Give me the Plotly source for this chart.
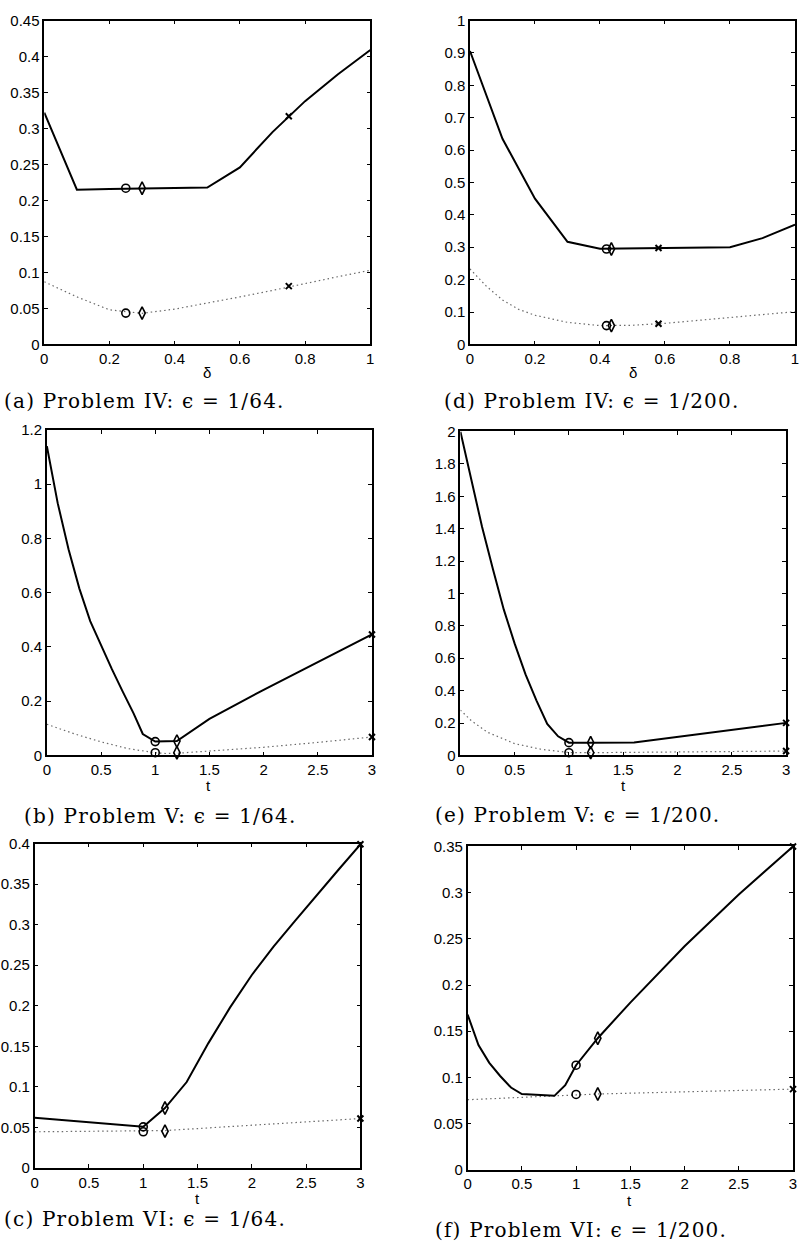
import plotly.graph_objects as go

W, H = 799, 1253

# ---------------- data ----------------
# (a) Problem IV, eps = 1/64  (x = delta)
a_x = [0, 0.1, 0.2, 0.3, 0.4, 0.5, 0.6, 0.7, 0.8, 0.9, 1.0]
a_solid = [0.322, 0.215, 0.216, 0.217, 0.218, 0.218, 0.246, 0.295, 0.338, 0.375, 0.409]
a_dot = [0.087, 0.066, 0.048, 0.0432, 0.049, 0.057, 0.066, 0.075, 0.085, 0.094, 0.103]
a_circ = (0.25, 0.217, 0.0435)
a_diam = (0.30, 0.217, 0.0435)
a_cross = (0.75, 0.317, 0.081)

# (d) Problem IV, eps = 1/200
d_x = [0, 0.1, 0.2, 0.3, 0.4, 0.5, 0.6, 0.7, 0.8, 0.9, 1.0]
d_solid = [0.906, 0.635, 0.45, 0.317, 0.295, 0.296, 0.297, 0.298, 0.300, 0.328, 0.370]
d_dx = [0, 0.05, 0.1, 0.15, 0.2, 0.3, 0.4, 0.5, 0.6, 0.7, 0.8, 0.9, 1.0]
d_dot = [0.233, 0.18, 0.137, 0.108, 0.09, 0.068, 0.058, 0.059, 0.065, 0.073, 0.083, 0.092, 0.101]
d_circ = (0.42, 0.2945, 0.058)
d_diam = (0.435, 0.2945, 0.058)
d_cross = (0.58, 0.2976, 0.0635)

# (b) Problem V, eps = 1/64  (x = t)
b_x = [0, 0.1, 0.2, 0.3, 0.4, 0.5, 0.6, 0.7, 0.8, 0.885, 1.0, 1.2, 1.5, 2.0, 2.5, 3.0]
b_solid = [1.14, 0.93, 0.76, 0.615, 0.495, 0.405, 0.318, 0.235, 0.155, 0.079, 0.051, 0.053,
           0.135, 0.242, 0.343, 0.446]
b_dx = [0, 0.25, 0.5, 0.75, 1.0, 1.1, 1.2, 1.5, 2.0, 2.5, 3.0]
b_dot = [0.115, 0.08, 0.05, 0.025, 0.01, 0.007, 0.008, 0.016, 0.03, 0.048, 0.068]
b_circ = (1.0, 0.051, 0.01)
b_diam = (1.2, 0.053, 0.01)
b_cross = (3.0, 0.446, 0.068)

# (e) Problem V, eps = 1/200
e_x = [0, 0.1, 0.2, 0.3, 0.4, 0.5, 0.6, 0.7, 0.8, 0.9, 1.0, 1.2, 1.6, 3.0]
e_solid = [2.0, 1.7, 1.41, 1.15, 0.9, 0.69, 0.5, 0.34, 0.195, 0.118, 0.079, 0.079, 0.080, 0.201]
e_dx = [0, 0.1, 0.25, 0.5, 0.75, 1.0, 1.2, 2.0, 3.0]
e_dot = [0.28, 0.215, 0.143, 0.073, 0.037, 0.018, 0.017, 0.021, 0.027]
e_circ = (1.0, 0.079, 0.017)
e_diam = (1.2, 0.079, 0.017)
e_cross = (3.0, 0.201, 0.027)

# (c) Problem VI, eps = 1/64
c_x = [0, 1.0, 1.2, 1.4, 1.6, 1.8, 2.0, 2.2, 2.4, 2.6, 2.8, 3.0]
c_solid = [0.062, 0.0508, 0.074, 0.106, 0.154, 0.198, 0.238, 0.273, 0.305, 0.337, 0.368, 0.399]
c_dx = [0, 1.0, 1.2, 3.0]
c_dot = [0.0447, 0.0452, 0.0462, 0.061]
c_circ = (1.0, 0.0508, 0.0447)
c_diam = (1.2, 0.074, 0.0455)
c_cross = (3.0, 0.399, 0.061)

# (f) Problem VI, eps = 1/200
f_x = [0, 0.1, 0.2, 0.3, 0.4, 0.5, 0.8, 0.9, 1.0, 1.2, 1.5, 2.0, 2.5, 3.0]
f_solid = [0.168, 0.135, 0.1157, 0.1015, 0.089, 0.0819, 0.080, 0.0915, 0.1132, 0.1424,
           0.181, 0.242, 0.298, 0.35]
f_dx = [0, 1.0, 1.2, 3.0]
f_dot = [0.0758, 0.0815, 0.082, 0.0873]
f_circ = (1.0, 0.1132, 0.0815)
f_diam = (1.2, 0.1424, 0.082)
f_cross = (3.0, 0.35, 0.0873)

# tick labels
xt_delta = [0, 0.2, 0.4, 0.6, 0.8, 1]
xt_delta_txt = ["0", "0.2", "0.4", "0.6", "0.8", "1"]
xt_t = [0, 0.5, 1, 1.5, 2, 2.5, 3]
xt_t_txt = ["0", "0.5", "1", "1.5", "2", "2.5", "3"]
yt_a = [0, 0.05, 0.1, 0.15, 0.2, 0.25, 0.3, 0.35, 0.4, 0.45]
yt_a_txt = ["0", "0.05", "0.1", "0.15", "0.2", "0.25", "0.3", "0.35", "0.4", "0.45"]
yt_d = [0, 0.1, 0.2, 0.3, 0.4, 0.5, 0.6, 0.7, 0.8, 0.9, 1]
yt_d_txt = ["0", "0.1", "0.2", "0.3", "0.4", "0.5", "0.6", "0.7", "0.8", "0.9", "1"]
yt_b = [0, 0.2, 0.4, 0.6, 0.8, 1, 1.2]
yt_b_txt = ["0", "0.2", "0.4", "0.6", "0.8", "1", "1.2"]
yt_e = [0, 0.2, 0.4, 0.6, 0.8, 1, 1.2, 1.4, 1.6, 1.8, 2]
yt_e_txt = ["0", "0.2", "0.4", "0.6", "0.8", "1", "1.2", "1.4", "1.6", "1.8", "2"]
yt_c = [0, 0.05, 0.1, 0.15, 0.2, 0.25, 0.3, 0.35, 0.4]
yt_c_txt = ["0", "0.05", "0.1", "0.15", "0.2", "0.25", "0.3", "0.35", "0.4"]
yt_f = [0, 0.05, 0.1, 0.15, 0.2, 0.25, 0.3, 0.35]
yt_f_txt = ["0", "0.05", "0.1", "0.15", "0.2", "0.25", "0.3", "0.35"]

captions = {
    "a": "(a) Problem IV: \u03f5 = 1/64.",
    "d": "(d) Problem IV: \u03f5 = 1/200.",
    "b": "(b) Problem V: \u03f5 = 1/64.",
    "e": "(e) Problem V: \u03f5 = 1/200.",
    "c": "(c) Problem VI: \u03f5 = 1/64.",
    "f": "(f) Problem VI: \u03f5 = 1/200.",
}

# ---------------- layout (pixel boxes) ----------------
panels = [
    dict(key="a", xb=(40.7, 370), yb=(11.7, 340), xr=[0, 1], yr=[0, 0.45],
         xt=(xt_delta, xt_delta_txt), yt=(yt_a, yt_a_txt),
         solid=(a_x, a_solid), dot=(a_x, a_dot), mk=(a_circ, a_diam, a_cross),
         xlab="\u03b4", lab=(205, 369), cap=(-2, 397)),
    dict(key="d", xb=(470.7, 799), yb=(11.7, 340), xr=[0, 1], yr=[0, 1],
         xt=(xt_delta, xt_delta_txt), yt=(yt_d, yt_d_txt),
         solid=(d_x, d_solid), dot=(d_dx, d_dot), mk=(d_circ, d_diam, d_cross),
         xlab="\u03b4", lab=(635, 369), cap=(442.7, 397)),
    dict(key="b", xb=(43.3, 371.7), yb=(426.7, 756.7), xr=[0, 3], yr=[0, 1.2],
         xt=(xt_t, xt_t_txt), yt=(yt_b, yt_b_txt),
         solid=(b_x, b_solid), dot=(b_dx, b_dot), mk=(b_circ, b_diam, b_cross),
         xlab="t", lab=(206.7, 787.5), cap=(18, 818)),
    dict(key="e", xb=(461, 790), yb=(428.3, 756.7), xr=[0, 3], yr=[0, 2],
         xt=(xt_t, xt_t_txt), yt=(yt_e, yt_e_txt),
         solid=(e_x, e_solid), dot=(e_dx, e_dot), mk=(e_circ, e_diam, e_cross),
         xlab="t", lab=(625.7, 787.5), cap=(433, 817)),
    dict(key="c", xb=(31, 360), yb=(846, 1175), xr=[0, 3], yr=[0, 0.4],
         xt=(xt_t, xt_t_txt), yt=(yt_c, yt_c_txt),
         solid=(c_x, c_solid), dot=(c_dx, c_dot), mk=(c_circ, c_diam, c_cross),
         xlab="t", lab=(195.7, 1206), cap=(-2, 1227)),
    dict(key="f", xb=(468.3, 797), yb=(849, 1176.7), xr=[0, 3], yr=[0, 0.35],
         xt=(xt_t, xt_t_txt), yt=(yt_f, yt_f_txt),
         solid=(f_x, f_solid), dot=(f_dx, f_dot), mk=(f_circ, f_diam, f_cross),
         xlab="t", lab=(632.3, 1208), cap=(433, 1238)),
]

TICK_FONT = dict(family="Liberation Sans, Arial, sans-serif", size=15, color="black")
CAP_FONT = dict(family="DejaVu Serif, serif", size=20, color="black")

fig = go.Figure()
annotations = []
layout = {}

marker_styles = [
    dict(symbol="circle-open", size=8, line=dict(width=1.6, color="black"), color="black"),
    dict(symbol="diamond-tall-open", size=9, line=dict(width=1.6, color="black"), color="black"),
    dict(symbol="x-thin-open", size=6, line=dict(width=2, color="black"), color="black"),
]

for i, p in enumerate(panels, start=1):
    xa = "x" if i == 1 else f"x{i}"
    ya = "y" if i == 1 else f"y{i}"
    xkey = "xaxis" if i == 1 else f"xaxis{i}"
    ykey = "yaxis" if i == 1 else f"yaxis{i}"

    common = dict(showgrid=False, zeroline=False, showline=True, linecolor="black",
                  linewidth=1.5, mirror="ticks", ticks="inside", ticklen=4,
                  tickwidth=1, tickcolor="black", tickfont=TICK_FONT,
                  tickmode="array", fixedrange=True, ticklabeloverflow="allow")
    layout[xkey] = dict(common, domain=[p["xb"][0] / W, p["xb"][1] / W],
                        range=p["xr"], tickvals=p["xt"][0], ticktext=p["xt"][1],
                        anchor=ya)
    layout[ykey] = dict(common, domain=[1 - p["yb"][1] / H, 1 - p["yb"][0] / H],
                        range=p["yr"], tickvals=p["yt"][0], ticktext=p["yt"][1],
                        anchor=xa)

    # dotted curve
    fig.add_trace(go.Scatter(x=p["dot"][0], y=p["dot"][1], mode="lines",
                             line=dict(color="#6a6a6a", width=1.2, dash="1.5px,3px"),
                             xaxis=xa, yaxis=ya, showlegend=False, cliponaxis=False))
    # solid curve
    fig.add_trace(go.Scatter(x=p["solid"][0], y=p["solid"][1], mode="lines",
                             line=dict(color="black", width=2),
                             xaxis=xa, yaxis=ya, showlegend=False, cliponaxis=False))
    # markers on both curves
    for m, style in zip(p["mk"], marker_styles):
        fig.add_trace(go.Scatter(x=[m[0], m[0]], y=[m[1], m[2]], mode="markers",
                                 marker=style, xaxis=xa, yaxis=ya,
                                 showlegend=False, cliponaxis=False))

    annotations.append(dict(text=p["xlab"], x=p["lab"][0] / W, y=1 - p["lab"][1] / H,
                            xref="paper", yref="paper", showarrow=False,
                            xanchor="center", yanchor="middle", font=TICK_FONT))
    annotations.append(dict(text='<span style="letter-spacing:1.2px">'
                                 + captions[p["key"]] + "</span>",
                            x=p["cap"][0] / W,
                            y=1 - p["cap"][1] / H, xref="paper", yref="paper",
                            showarrow=False, xanchor="left", yanchor="middle",
                            font=CAP_FONT))

fig.update_layout(width=W, height=H, margin=dict(l=0, r=0, t=0, b=0),
                  paper_bgcolor="white", plot_bgcolor="white",
                  annotations=annotations, **layout)

fig.write_html("out.html")
